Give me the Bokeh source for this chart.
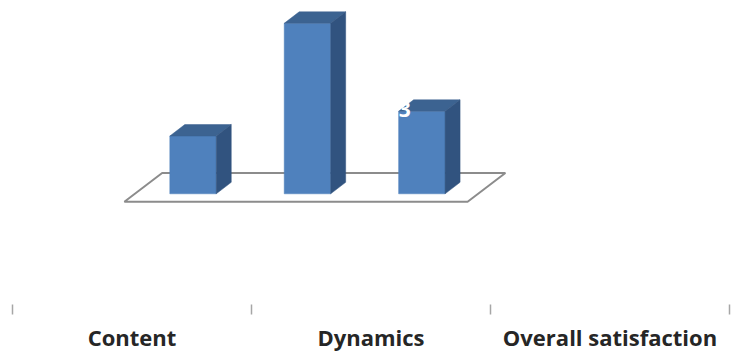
from bokeh.plotting import figure
from bokeh.models import Range1d, LinearAxis, FixedTicker
from bokeh.core.properties import value
from bokeh.embed import file_html
from bokeh.resources import INLINE

# ---- data ----
categories = ["Content", "Dynamics", "Overall satisfaction"]
values = [2.1, 6.2, 3.0]
data_labels = ["", "", "3"]

# ---- styling / 3D geometry constants (data units) ----
FRONT = "#4F81BD"
TOP = "#3C6391"
SIDE = "#31537F"
HALF = 0.203      # half bar width
DX, DY = 0.131, 0.418   # bar depth offset
FLOOR_DX, FLOOR_Y0, FLOOR_Y1 = 0.33, -0.29, 0.756

p = figure(width=731, height=354, output_backend="svg", toolbar_location=None,
           x_range=Range1d(-0.578, 5.689), y_range=Range1d(-4.28, 7.029),
           x_axis_type=None, y_axis_type=None,
           min_border_left=12, min_border_right=2, min_border_top=0,
           min_border_bottom=43)
p.grid.visible = False
p.outline_line_color = None
p.background_fill_color = "white"
p.border_fill_color = "white"

n = len(values)
centers = [i + 1 for i in range(n)]

# floor
fl = centers[0] - 0.6
fr = centers[-1] + 0.4
p.patch([fl, fr, fr + FLOOR_DX, fl + FLOOR_DX],
        [FLOOR_Y0, FLOOR_Y0, FLOOR_Y1, FLOOR_Y1],
        fill_color="white", line_color="#8C8C8C", line_width=2)

# bars
p.quad(left=[c - HALF for c in centers], right=[c + HALF for c in centers],
       bottom=0, top=values, fill_color=FRONT, line_color=FRONT, line_width=0.5)
p.patches([[c - HALF, c - HALF + DX, c + HALF + DX, c + HALF] for c in centers],
          [[v, v + DY, v + DY, v] for v in values],
          fill_color=TOP, line_color=TOP, line_width=0.5)
p.patches([[c + HALF, c + HALF + DX, c + HALF + DX, c + HALF] for c in centers],
          [[0, DY, v + DY, v] for v in values],
          fill_color=SIDE, line_color=SIDE, line_width=0.5)

# data labels
p.text(x=[c - 0.15 for c in centers], y=[v + 0.065 for v in values], text=data_labels,
       text_color="white", text_font=value("Open Sans"), text_font_style="bold",
       text_font_size="21px", text_align="center", text_baseline="middle")

# category axis
p.extra_x_ranges = {"cat": Range1d(0, n)}
ax = LinearAxis(x_range_name="cat",
                ticker=FixedTicker(ticks=[i + 0.5 for i in range(n)],
                                   minor_ticks=list(range(n + 1))))
ax.major_label_overrides = {i + 0.5: c for i, c in enumerate(categories)}
ax.axis_line_color = None
ax.major_tick_line_color = None
ax.major_tick_in = 0
ax.major_tick_out = 0
ax.minor_tick_in = 7
ax.minor_tick_out = 3
ax.minor_tick_line_color = "#A6A6A6"
ax.minor_tick_line_width = 1.5
ax.major_label_standoff = 7
ax.major_label_text_font = "Open Sans"
ax.major_label_text_font_style = "bold"
ax.major_label_text_font_size = "22px"
ax.major_label_text_color = "#262626"
p.add_layout(ax, "below")

open("out.html", "w").write(file_html(p, INLINE))
